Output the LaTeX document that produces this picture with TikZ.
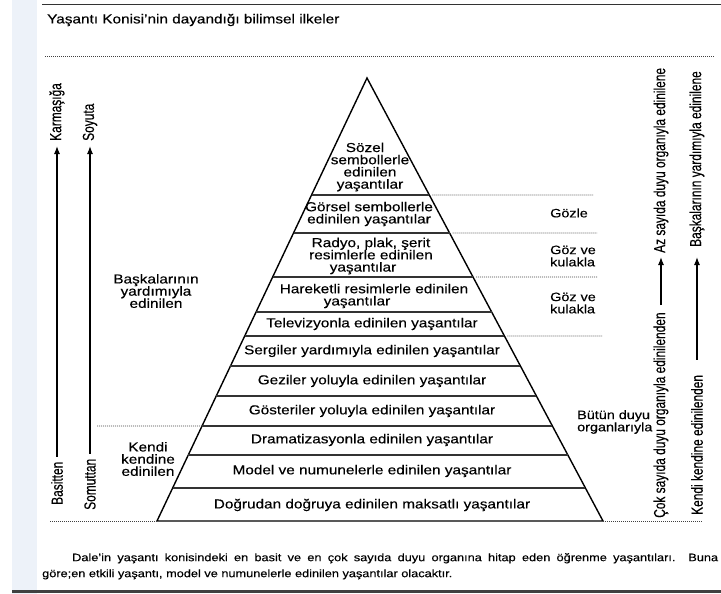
\documentclass[tikz,border=0pt]{standalone}
\usepackage{xcolor}
\usepackage{fontspec}
\setmainfont{Liberation Sans}[FakeStretch=1.18,FakeBold=0.3]
\newfontfamily\narrowfont{Liberation Sans}[FakeStretch=0.745,FakeBold=0.3]
\usepackage{tikz}
\usetikzlibrary{positioning,calc,arrows.meta}

\definecolor{stripblue}{HTML}{EDF2F9}
\tikzset{
    layertext/.style={font=\fontsize{13}{12.2}\selectfont, align=center, inner sep=0pt},
    sidetext/.style={font=\fontsize{12.2}{12.2}\selectfont, align=left, anchor=west, inner sep=0pt},
    vtext/.style={font=\narrowfont\fontsize{16}{16}\selectfont, rotate=90, anchor=west, inner sep=0pt},
    guide/.style={line width=0.7pt, dash pattern=on 1pt off 1pt, black!75},
    upline/.style={line width=1.2pt, -{Latex[length=8pt,width=6pt]}},
}

\begin{document}
\begin{tikzpicture}[x=1pt,y=-1pt]
    % Page
    \useasboundingbox (0,0) rectangle (721,594);
    \fill[stripblue] (12,0) rectangle (37,594);
    \draw[black!80, line width=0.8pt] (42,4) -- (721,4);
    \draw[black!75, line width=3pt] (12,591) -- (721,591);

    % Title
    \node[anchor=west, inner sep=0pt, font=\fontsize{13}{13}\selectfont] (title) at (47,20) {Yaşantı Konisi'nin dayandığı bilimsel ilkeler};
    \draw[guide] (45,56) -- (715,56);

    % Cone
    \coordinate (top) at (367,78);
    \coordinate (bl) at (157,521);
    \coordinate (br) at (603,521);
    \draw[line width=1.4pt] (bl) -- (top) -- (br) -- cycle;
    \foreach \y in {195,233,277,312,336,366,396,426,455,488}
        \draw[line width=1.2pt, black!80] ($(top)!{(\y-78)/443}!(bl)$) -- ($(top)!{(\y-78)/443}!(br)$);

    % Layers
    \node[layertext] (sozel) at (370,167) {Sözel\hspace*{10pt}\\sembollerle\\edinilen\hspace*{6pt}\\yaşantılar};
    \node[layertext] (gorsel) at (369,214) {Görsel sembollerle\\edinilen yaşantılar};
    \node[layertext] (radyo) at (371,256) {Radyo, plak, şerit\\resimlerle edinilen\\yaşantılar\hspace*{16pt}};
    \node[layertext] (hareketli) at (374,296) {Hareketli resimlerle edinilen\\yaşantılar\hspace*{34pt}};
    \node[layertext] (tv) at (372,324) {Televizyonla edinilen yaşantılar};
    \node[layertext] (sergi) at (372,351) {Sergiler yardımıyla edinilen yaşantılar};
    \node[layertext] (gezi) at (372,381) {Geziler yoluyla edinilen yaşantılar};
    \node[layertext] (gosteri) at (372,411) {Gösteriler yoluyla edinilen yaşantılar};
    \node[layertext] (drama) at (372,440) {Dramatizasyonla edinilen yaşantılar};
    \node[layertext] (model) at (372,471) {Model ve numunelerle edinilen yaşantılar};
    \node[layertext] (dogrudan) at (372,505) {Doğrudan doğruya edinilen maksatlı yaşantılar};

    % Sense organs
    \foreach \y/\xe in {195/593,233/597,277/597,336/602}
        \draw[guide] ($(top)!{(\y-78)/443}!(br)$) ++(3,0) -- (\xe,\y);
    \draw[guide] (br) -- (702,521);
    \node[sidetext] (gozle) at (550,213) {Gözle};
    \node[sidetext] (gozkulak) at (550,256) {Göz ve\\kulakla};
    \node[sidetext] (gozkulakb) at (550,303) {Göz ve\\kulakla};
    \node[sidetext] (butun) at (577,422) {Bütün duyu\\organlarıyla};

    % Left groups
    \node[layertext] (baskalari) at (156,291) {Başkalarının\\yardımıyla\\edinilen};
    \node[layertext] (kendi) at (148,459) {Kendi\\kendine\\edinilen};
    \draw[guide] (97,426) -- ($(top)!{(426-78)/443}!(bl)$);
    \draw[guide] (50,521) -- (bl);

    % Vertical arrows
    \node[vtext] (basitten) at (57,505) {Basitten};
    \node[vtext] (karmasiga) at (57,141) {Karmaşığa};
    \draw[upline, shorten <=5pt, shorten >=5pt] (basitten.east) -- (basitten.east |- karmasiga.west);
    \node[vtext] (somuttan) at (90,510) {Somuttan};
    \node[vtext] (soyuta) at (90,141) {Soyuta};
    \draw[upline, shorten <=5pt, shorten >=5pt] (somuttan.east) -- (somuttan.east |- soyuta.west);
    \node[vtext] (cok) at (661,518) {Çok sayıda duyu organıyla edinilenden};
    \node[vtext] (az) at (661,253) {Az sayıda duyu organıyla edinilene};
    \draw[upline, shorten <=7pt, shorten >=4pt] (cok.east) -- (cok.east |- az.west);
    \node[vtext] (kendine) at (697,515) {Kendi kendine edinilenden};
    \node[vtext] (baskalarinin) at (697,247) {Başkalarının yardımıyla edinilene};
    \draw[upline, shorten <=15pt, shorten >=10pt] (kendine.east) -- (kendine.east |- baskalarinin.west);

    % Caption
    \node[anchor=north west, inner sep=0pt, text width=676pt, align=justify, font=\fontsize{10.8}{16}\selectfont] (caption) at (42,553)
        {\hspace*{30pt}Dale'in yaşantı konisindeki en basit ve en çok sayıda duyu organına hitap eden öğrenme yaşantıları. Buna\linebreak göre;en etkili yaşantı, model ve numunelerle edinilen yaşantılar olacaktır.};
\end{tikzpicture}
\end{document}
